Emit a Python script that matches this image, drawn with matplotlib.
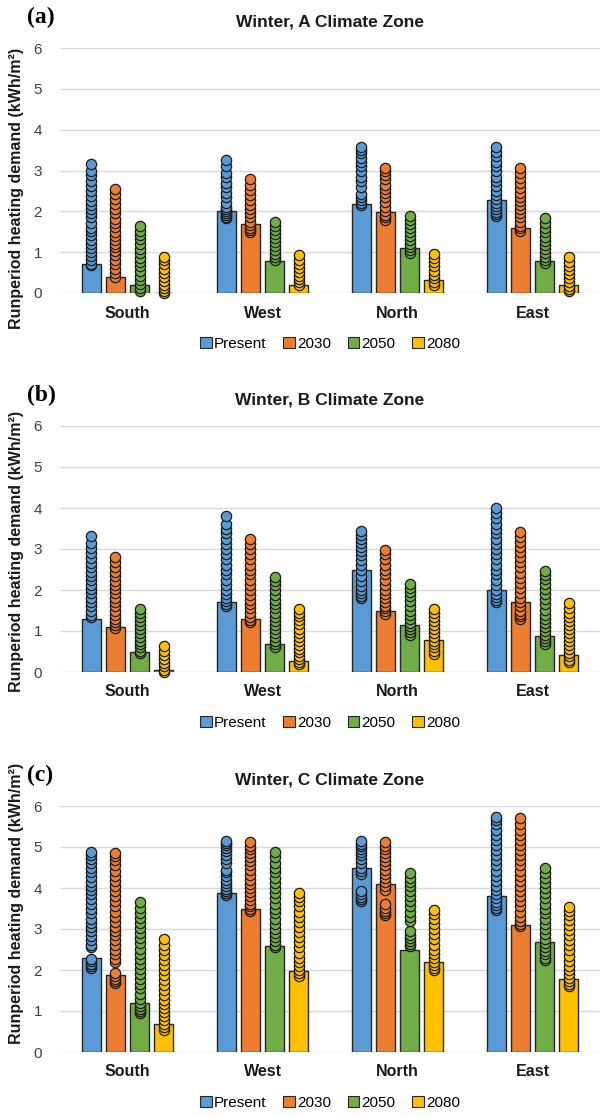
import matplotlib
matplotlib.use("Agg")
import matplotlib.pyplot as plt
from matplotlib.patches import Patch
import numpy as np

plt.rcParams["font.family"] = ["Liberation Sans", "DejaVu Sans"]

directions = ["South", "West", "North", "East"]
scenarios = ["Present", "2030", "2050", "2080"]
colors = ["#5B9BD5", "#ED7D31", "#70AD47", "#FFC000"]
titles = ["Winter, A Climate Zone", "Winter, B Climate Zone", "Winter, C Climate Zone"]
panel_tags = ["(a)", "(b)", "(c)"]

# bar heights (average), per scenario, in direction order
bars_a = {"Present": [0.70, 2.02, 2.18, 2.28], "2030": [0.38, 1.68, 1.98, 1.59],
          "2050": [0.19, 0.78, 1.11, 0.78], "2080": [0.0, 0.19, 0.33, 0.19]}
bars_b = {"Present": [1.30, 1.71, 2.50, 1.99], "2030": [1.10, 1.30, 1.50, 1.71],
          "2050": [0.50, 0.69, 1.15, 0.87], "2080": [0.04, 0.28, 0.79, 0.41]}
bars_c = {"Present": [2.29, 3.89, 4.49, 3.80], "2030": [1.89, 3.49, 4.10, 3.09],
          "2050": [1.20, 2.59, 2.50, 2.68], "2080": [0.69, 1.98, 2.20, 1.79]}

# individual runs, per scenario: [South, West, North, East]
dots_a = {
    "Present": [[0.68, 0.72, 0.8, 0.9, 1.0, 1.1, 1.2, 1.3, 1.42, 1.52, 1.6, 1.72, 1.85, 1.95, 2.05, 2.15, 2.25, 2.38, 2.5, 2.62, 2.75, 2.88, 3.0, 3.15],
                [1.83, 1.86, 1.9, 1.95, 2.0, 2.05, 2.1, 2.2, 2.35, 2.45, 2.6, 2.7, 2.85, 2.95, 3.1, 3.25],
                [2.15, 2.2, 2.27, 2.35, 2.42, 2.6, 2.75, 2.85, 2.98, 3.1, 3.2, 3.3, 3.42, 3.5, 3.58],
                [1.89, 1.93, 1.98, 2.05, 2.12, 2.2, 2.3, 2.4, 2.5, 2.62, 2.75, 2.85, 2.98, 3.1, 3.22, 3.35, 3.45, 3.58]],
    "2030": [[0.4, 0.48, 0.58, 0.7, 0.8, 0.92, 1.02, 1.12, 1.2, 1.3, 1.4, 1.5, 1.62, 1.72, 1.82, 1.95, 2.05, 2.18, 2.3, 2.42, 2.54],
             [1.5, 1.55, 1.6, 1.67, 1.75, 1.85, 1.95, 2.05, 2.15, 2.28, 2.4, 2.52, 2.65, 2.79],
             [1.79, 1.85, 1.92, 2.0, 2.1, 2.22, 2.35, 2.45, 2.55, 2.65, 2.78, 2.9, 3.0, 3.07],
             [1.52, 1.58, 1.65, 1.75, 1.85, 1.95, 2.05, 2.15, 2.25, 2.35, 2.45, 2.58, 2.7, 2.82, 2.95, 3.07]],
    "2050": [[0.04, 0.12, 0.22, 0.32, 0.42, 0.55, 0.65, 0.75, 0.85, 0.97, 1.08, 1.2, 1.32, 1.42, 1.52, 1.63],
             [0.81, 0.87, 0.95, 1.05, 1.15, 1.25, 1.35, 1.45, 1.55, 1.65, 1.75],
             [0.98, 1.05, 1.12, 1.2, 1.3, 1.4, 1.5, 1.6, 1.7, 1.8, 1.89],
             [0.73, 0.8, 0.88, 0.98, 1.08, 1.18, 1.28, 1.38, 1.5, 1.6, 1.72, 1.83]],
    "2080": [[0.0, 0.05, 0.12, 0.2, 0.3, 0.4, 0.5, 0.6, 0.7, 0.8, 0.88],
             [0.2, 0.26, 0.34, 0.42, 0.52, 0.62, 0.72, 0.82, 0.93],
             [0.2, 0.28, 0.36, 0.45, 0.55, 0.65, 0.75, 0.85, 0.95],
             [0.04, 0.1, 0.18, 0.27, 0.36, 0.46, 0.56, 0.66, 0.77, 0.89]],
}
dots_b = {
    "Present": [[1.33, 1.4, 1.5, 1.6, 1.7, 1.8, 1.92, 2.02, 2.12, 2.25, 2.35, 2.45, 2.55, 2.65, 2.78, 2.9, 3.02, 3.15, 3.31],
                [1.6, 1.65, 1.72, 1.8, 1.9, 2.0, 2.12, 2.25, 2.38, 2.5, 2.62, 2.75, 2.88, 3.0, 3.12, 3.25, 3.38, 3.5, 3.62, 3.8],
                [1.81, 1.86, 1.92, 2.0, 2.1, 2.22, 2.35, 2.48, 2.6, 2.72, 2.85, 2.95, 3.05, 3.15, 3.25, 3.35, 3.44],
                [1.71, 1.76, 1.82, 1.9, 2.0, 2.12, 2.25, 2.38, 2.5, 2.62, 2.75, 2.88, 3.0, 3.12, 3.25, 3.38, 3.5, 3.62, 3.75, 3.88, 4.0]],
    "2030": [[1.08, 1.15, 1.22, 1.3, 1.4, 1.5, 1.6, 1.7, 1.8, 1.92, 2.02, 2.12, 2.22, 2.35, 2.45, 2.55, 2.68, 2.8],
             [1.22, 1.28, 1.35, 1.45, 1.55, 1.65, 1.75, 1.87, 2.0, 2.12, 2.25, 2.38, 2.5, 2.62, 2.75, 2.88, 3.0, 3.12, 3.25],
             [1.42, 1.48, 1.55, 1.62, 1.7, 1.8, 1.9, 2.0, 2.12, 2.25, 2.38, 2.5, 2.62, 2.75, 2.87, 2.97],
             [1.3, 1.36, 1.42, 1.5, 1.6, 1.7, 1.8, 1.92, 2.05, 2.18, 2.3, 2.42, 2.55, 2.68, 2.8, 2.92, 3.05, 3.18, 3.3, 3.41]],
    "2050": [[0.46, 0.52, 0.6, 0.68, 0.76, 0.85, 0.95, 1.05, 1.15, 1.25, 1.35, 1.45, 1.54],
             [0.61, 0.68, 0.76, 0.85, 0.95, 1.05, 1.15, 1.25, 1.35, 1.45, 1.55, 1.65, 1.75, 1.87, 2.0, 2.12, 2.22, 2.32],
             [0.91, 0.98, 1.05, 1.12, 1.2, 1.3, 1.4, 1.5, 1.6, 1.72, 1.85, 1.95, 2.05, 2.15],
             [0.69, 0.75, 0.82, 0.9, 1.0, 1.1, 1.2, 1.3, 1.4, 1.52, 1.65, 1.78, 1.9, 2.02, 2.15, 2.28, 2.37, 2.46]],
    "2080": [[0.0, 0.06, 0.14, 0.22, 0.32, 0.42, 0.52, 0.63],
             [0.19, 0.25, 0.32, 0.4, 0.48, 0.56, 0.66, 0.76, 0.86, 0.96, 1.06, 1.16, 1.26, 1.36, 1.45, 1.54],
             [0.45, 0.52, 0.6, 0.68, 0.76, 0.85, 0.95, 1.05, 1.15, 1.25, 1.35, 1.45, 1.54],
             [0.24, 0.3, 0.38, 0.46, 0.55, 0.65, 0.75, 0.85, 0.95, 1.05, 1.15, 1.25, 1.35, 1.45, 1.56, 1.68]],
}
dots_c = {
    "Present": [[2.05, 2.1, 2.15, 2.22, 2.28, 2.55, 2.62, 2.72, 2.82, 2.95, 3.05, 3.15, 3.25, 3.38, 3.5, 3.6, 3.72, 3.85, 3.95, 4.05, 4.15, 4.28, 4.4, 4.5, 4.6, 4.7, 4.8, 4.87],
                [3.84, 3.88, 3.92, 3.97, 4.05, 4.12, 4.2, 4.3, 4.38, 4.45, 4.62, 4.7, 4.8, 4.9, 4.98, 5.05, 5.1, 5.14],
                [3.68, 3.72, 3.78, 3.85, 3.92, 4.35, 4.42, 4.5, 4.6, 4.7, 4.8, 4.88, 4.95, 5.02, 5.08, 5.14],
                [3.47, 3.52, 3.58, 3.65, 3.75, 3.85, 3.95, 4.05, 4.18, 4.3, 4.42, 4.55, 4.68, 4.8, 4.92, 5.05, 5.18, 5.3, 5.42, 5.55, 5.65, 5.72]],
    "2030": [[1.68, 1.72, 1.78, 1.85, 1.92, 2.2, 2.28, 2.38, 2.5, 2.6, 2.72, 2.85, 2.95, 3.05, 3.18, 3.3, 3.42, 3.55, 3.68, 3.8, 3.92, 4.05, 4.18, 4.3, 4.42, 4.55, 4.68, 4.78, 4.85],
             [3.43, 3.48, 3.55, 3.62, 3.7, 3.8, 3.9, 4.0, 4.1, 4.2, 4.32, 4.44, 4.55, 4.65, 4.75, 4.85, 4.95, 5.03, 5.11],
             [3.33, 3.38, 3.45, 3.52, 3.6, 3.95, 4.05, 4.15, 4.25, 4.35, 4.45, 4.55, 4.65, 4.75, 4.85, 4.95, 5.03, 5.11],
             [3.07, 3.12, 3.2, 3.3, 3.42, 3.55, 3.68, 3.8, 3.92, 4.05, 4.18, 4.3, 4.42, 4.55, 4.68, 4.8, 4.92, 5.05, 5.18, 5.3, 5.42, 5.55, 5.7]],
    "2050": [[0.95, 1.0, 1.05, 1.12, 1.2, 1.3, 1.42, 1.55, 1.65, 1.78, 1.9, 2.02, 2.15, 2.28, 2.4, 2.52, 2.65, 2.78, 2.9, 3.02, 3.15, 3.28, 3.4, 3.52, 3.67],
             [2.56, 2.62, 2.7, 2.8, 2.9, 3.0, 3.12, 3.25, 3.38, 3.5, 3.62, 3.75, 3.88, 4.0, 4.12, 4.25, 4.38, 4.5, 4.62, 4.75, 4.89],
             [2.58, 2.63, 2.7, 2.78, 2.86, 2.95, 3.2, 3.3, 3.42, 3.55, 3.68, 3.8, 3.92, 4.05, 4.15, 4.25, 4.37],
             [2.24, 2.3, 2.38, 2.46, 2.55, 2.65, 2.75, 2.88, 3.0, 3.12, 3.25, 3.38, 3.5, 3.62, 3.75, 3.88, 4.0, 4.12, 4.25, 4.37, 4.49]],
    "2080": [[0.53, 0.6, 0.68, 0.78, 0.88, 0.98, 1.08, 1.18, 1.28, 1.4, 1.52, 1.64, 1.76, 1.88, 2.0, 2.12, 2.24, 2.36, 2.48, 2.6, 2.76],
             [1.86, 1.92, 2.0, 2.1, 2.2, 2.3, 2.42, 2.55, 2.68, 2.8, 2.92, 3.05, 3.18, 3.3, 3.42, 3.55, 3.68, 3.78, 3.88],
             [1.99, 2.05, 2.12, 2.2, 2.3, 2.4, 2.5, 2.62, 2.75, 2.88, 3.0, 3.12, 3.25, 3.36, 3.47],
             [1.6, 1.65, 1.72, 1.8, 1.9, 2.0, 2.1, 2.22, 2.35, 2.48, 2.6, 2.72, 2.85, 2.98, 3.1, 3.22, 3.34, 3.45, 3.54]],
}

W, H = 610, 1117
fig = plt.figure(figsize=(W / 100, H / 100), dpi=100)

# axes boxes in pixels: (top, bottom) of the 0..6 range
boxes = [(48, 293), (426, 672), (806, 1052)]
ylabel_centers = [188, 551, 903]
x0, x1 = 60, 600

edge = "#262626"
bar_w = 0.14
offsets = [-0.267, -0.089, 0.089, 0.267]
x = np.arange(len(directions))

for i, (bars, dots) in enumerate([(bars_a, dots_a), (bars_b, dots_b), (bars_c, dots_c)]):
    top, bot = boxes[i]
    ax = fig.add_axes([x0 / W, 1 - bot / H, (x1 - x0) / W, (bot - top) / H])
    for j, s in enumerate(scenarios):
        ax.bar(x + offsets[j], bars[s], width=bar_w, color=colors[j],
               edgecolor=edge, linewidth=1.0, zorder=2)
        for k in range(len(directions)):
            vals = dots[s][k]
            ax.plot(np.full(len(vals), x[k] + offsets[j]), vals, "o", ms=7.4,
                    mfc=colors[j], mec="#1a1a1a", mew=0.9, zorder=3, clip_on=False)

    ax.set_xlim(-0.5, 3.5)
    ax.set_ylim(0, 6)
    ax.set_yticks(range(7))
    ax.yaxis.grid(True, color="#d9d9d9", linewidth=1.0, zorder=0)
    ax.set_axisbelow(True)
    for sp in ax.spines.values():
        sp.set_visible(False)
    ax.tick_params(axis="y", length=0, pad=13, labelsize=11, labelcolor="#404040")
    ax.tick_params(axis="x", length=0, pad=9)
    ax.set_xticks(x)
    ax.set_xticklabels(directions, fontsize=11.5, fontweight="bold", color="#1a1a1a")

    handles = [Patch(facecolor=c, edgecolor=edge, linewidth=0.8) for c in colors]
    ax.legend(handles, scenarios, loc="center", bbox_to_anchor=(0.5, -51 / (bot - top)),
              ncol=4, frameon=False, fontsize=11, handlelength=0.75, handleheight=0.75,
              handletextpad=0.15, columnspacing=1.1)

    fig.text(330 / W, 1 - (top - 26) / H, titles[i], ha="center", va="center",
             fontsize=12.5, fontweight="bold", color="#1a1a1a")
    fig.text(27 / W, 1 - (top - 31) / H, panel_tags[i], ha="left", va="center",
             fontsize=17, fontweight="bold", family="Liberation Serif")
    fig.text(17 / W, 1 - ylabel_centers[i] / H, "Runperiod heating demand (kWh/m²)",
             rotation=90, ha="center", va="center", fontsize=11.5, fontweight="bold",
             color="#1a1a1a")

fig.savefig("out.png", dpi=100)
